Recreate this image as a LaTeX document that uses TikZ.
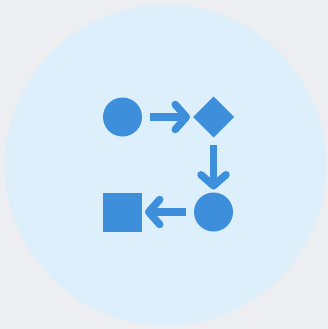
\documentclass[tikz,border=0pt]{standalone}
\usetikzlibrary{shapes.geometric,arrows.meta}
\definecolor{bgout}{HTML}{ECEEF2}
\definecolor{bgin}{HTML}{DDEFFA}
\definecolor{iconblue}{HTML}{3D8FDB}
\tikzset{
  shp/.style={fill=iconblue, draw=none, inner sep=0pt, outer sep=0pt},
  flow/.style={draw=iconblue, line width=7.5pt,
    -{Straight Barb[length=11pt, width=25pt, round]}}
}
\begin{document}
\begin{tikzpicture}[x=1pt,y=-1pt]
\useasboundingbox (0,0) rectangle (328,329);
\fill[bgout] (0,0) rectangle (328,329);
\fill[bgin] (165.5,165) circle (160.5);
\node[shp, circle, minimum size=39pt] (c1) at (122.5,117) {};
\node[shp, diamond, minimum size=41pt] (d1) at (213.5,117) {};
\node[shp, circle, minimum size=39pt] (c2) at (213.5,212) {};
\node[shp, rectangle, minimum size=39pt] (s1) at (122.5,212) {};
\draw[flow, shorten <=8pt, shorten >=3pt] (c1) -- (d1);
\draw[flow, shorten <=7.5pt, shorten >=3pt] (d1) -- (c2);
\draw[flow, shorten <=8.5pt, shorten >=3pt] (c2) -- (s1);
\end{tikzpicture}
\end{document}
